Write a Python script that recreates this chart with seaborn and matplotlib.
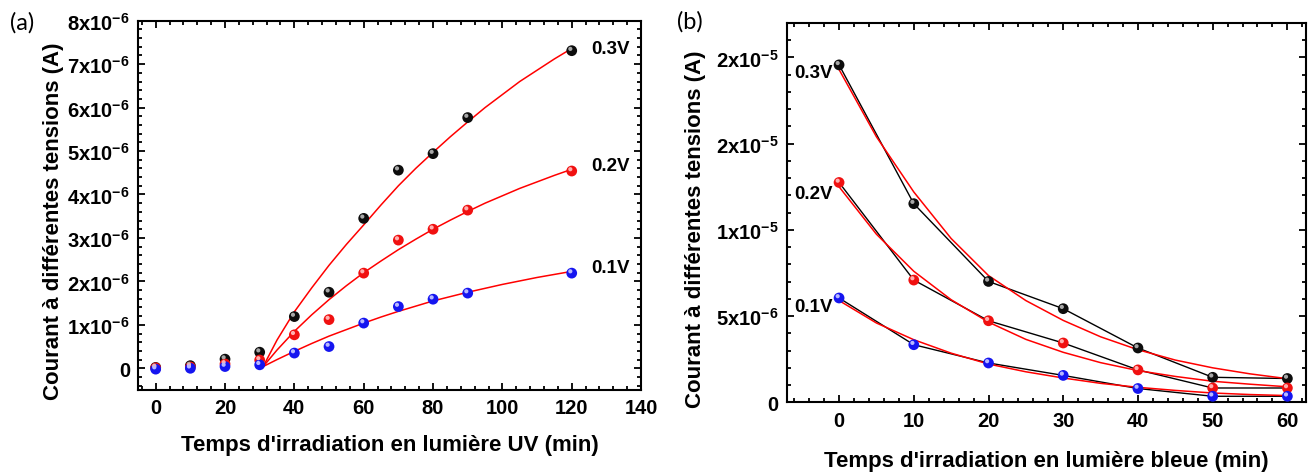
import numpy as np
import pandas as pd
import matplotlib
matplotlib.use('Agg')
import matplotlib.pyplot as plt
import seaborn as sns
from matplotlib import font_manager, transforms
from matplotlib.ticker import MultipleLocator, FixedLocator

# ---- data (courant en 1e-6 A) ----
uv_time = [0, 10, 20, 30, 40, 50, 60, 70, 80, 90, 120]
uv_03 = [0.02, 0.06, 0.21, 0.37, 1.19, 1.75, 3.45, 4.56, 4.94, 5.77, 7.31]
uv_02 = [0.01, 0.03, 0.10, 0.19, 0.77, 1.12, 2.19, 2.95, 3.20, 3.64, 4.54]
uv_01 = [-0.02, 0.00, 0.04, 0.08, 0.35, 0.50, 1.04, 1.42, 1.59, 1.73, 2.19]

fit_uv_time = [31, 35, 40, 45, 50, 55, 60, 65, 70, 75, 80, 85, 90, 95, 100, 105, 110, 115, 120]
fit_uv_03 = [0.04, 0.65, 1.30, 1.85, 2.37, 2.85, 3.30, 3.76, 4.20, 4.60, 4.97, 5.33, 5.67, 6.00, 6.30, 6.60, 6.86, 7.12, 7.36]
fit_uv_02 = [0.04, 0.42, 0.85, 1.23, 1.58, 1.90, 2.20, 2.47, 2.73, 2.97, 3.20, 3.41, 3.61, 3.80, 3.97, 4.14, 4.29, 4.44, 4.58]
fit_uv_01 = [0.04, 0.20, 0.39, 0.57, 0.74, 0.89, 1.04, 1.18, 1.31, 1.43, 1.55, 1.65, 1.75, 1.84, 1.93, 2.01, 2.09, 2.16, 2.23]

bl_time = [0, 10, 20, 30, 40, 50, 60]
bl_03 = [19.57, 11.52, 7.01, 5.43, 3.15, 1.45, 1.38]
bl_02 = [12.75, 7.09, 4.73, 3.44, 1.88, 0.83, 0.83]
bl_01 = [6.05, 3.34, 2.28, 1.56, 0.80, 0.35, 0.35]

fit_bl_time = [0, 5, 10, 15, 20, 25, 30, 35, 40, 45, 50, 55, 60]
fit_bl_03 = [19.3, 15.4, 12.2, 9.5, 7.35, 5.9, 4.75, 3.8, 3.05, 2.45, 2.0, 1.65, 1.37]
fit_bl_02 = [12.5, 9.75, 7.6, 5.95, 4.65, 3.65, 2.9, 2.3, 1.84, 1.5, 1.22, 1.05, 0.9]
fit_bl_01 = [5.9, 4.6, 3.63, 2.85, 2.22, 1.77, 1.41, 1.1, 0.87, 0.69, 0.54, 0.45, 0.39]

tensions = ['0.3V', '0.2V', '0.1V']
uv_ticks = [0, 1, 2, 3, 4, 5, 6, 7, 8]
uv_ticklabels = ['0'] + [r'$\mathbf{%dx10^{-6}}$' % i for i in range(1, 9)]
bl_ticks = [0, 5, 10, 15, 20]
bl_ticklabels = ['0', r'$\mathbf{5x10^{-6}}$', r'$\mathbf{1x10^{-5}}$',
                 r'$\mathbf{2x10^{-5}}$', r'$\mathbf{2x10^{-5}}$']

# ---- style ----
sns.set_style('ticks')
names = {f.name for f in font_manager.fontManager.ttflist}
main_font = 'Liberation Sans' if 'Liberation Sans' in names else 'DejaVu Sans'
plt.rcParams['font.family'] = [main_font, 'DejaVu Sans']
plt.rcParams['font.weight'] = 'bold'
plt.rcParams['mathtext.fontset'] = 'custom'
plt.rcParams['mathtext.rm'] = main_font
plt.rcParams['mathtext.bf'] = main_font + ':bold'
for k in ['text.color', 'axes.labelcolor', 'xtick.color', 'ytick.color']:
    plt.rcParams[k] = 'black'

base_col = {'0.3V': '#0d0d0d', '0.2V': '#f01010', '0.1V': '#1515f0'}
high_col = {'0.3V': '#a8a8a8', '0.2V': '#ffb0b0', '0.1V': '#b8b8ff'}

df_uv = pd.DataFrame({'t': uv_time * 3, 'I': uv_03 + uv_02 + uv_01,
                      'V': np.repeat(tensions, len(uv_time))})
df_uvfit = pd.DataFrame({'t': fit_uv_time * 3, 'I': fit_uv_03 + fit_uv_02 + fit_uv_01,
                         'V': np.repeat(tensions, len(fit_uv_time))})
df_bl = pd.DataFrame({'t': bl_time * 3, 'I': bl_03 + bl_02 + bl_01,
                      'V': np.repeat(tensions, len(bl_time))})
df_blfit = pd.DataFrame({'t': fit_bl_time * 3, 'I': fit_bl_03 + fit_bl_02 + fit_bl_01,
                         'V': np.repeat(tensions, len(fit_bl_time))})

fig = plt.figure(figsize=(13.15, 4.77), dpi=100)
ax1 = fig.add_axes([0.1052, 0.1803, 0.3823, 0.7742])
ax2 = fig.add_axes([0.5983, 0.1545, 0.3949, 0.7952])


def balls(ax, df):
    # boule : disque de base + reflet décalé
    sns.scatterplot(data=df, x='t', y='I', hue='V', palette=base_col, s=60,
                    linewidth=0, legend=False, ax=ax, zorder=4)
    off = transforms.offset_copy(ax.transData, fig=fig, x=-1.0, y=1.3, units='points')
    sns.scatterplot(data=df, x='t', y='I', hue='V', palette=high_col, s=9,
                    linewidth=0, legend=False, ax=ax, zorder=5, transform=off)


def frame(ax):
    for sp in ax.spines.values():
        sp.set_visible(True)
        sp.set_linewidth(1.5)
        sp.set_color('black')
    ax.tick_params(which='both', direction='in', top=True, right=True,
                   width=1.3, labelsize=14.5, colors='black')
    ax.tick_params(which='major', length=5, pad=6)
    ax.tick_params(which='minor', length=3)


# ---- (a) UV ----
sns.lineplot(data=df_uvfit, x='t', y='I', hue='V', palette={v: 'red' for v in tensions},
             estimator=None, sort=False, lw=1.1, legend=False, ax=ax1, zorder=2)
balls(ax1, df_uv)
ax1.set_xlim(-5, 140)
ax1.set_ylim(-0.5, 8)
ax1.xaxis.set_major_locator(MultipleLocator(20))
ax1.xaxis.set_minor_locator(MultipleLocator(4))
ax1.yaxis.set_major_locator(FixedLocator(uv_ticks))
ax1.set_yticklabels(uv_ticklabels)
ax1.yaxis.set_minor_locator(MultipleLocator(0.2))
frame(ax1)
ax1.set_xlabel("Temps d'irradiation en lumière UV (min)", fontsize=16, fontweight='bold')
ax1.set_ylabel('Courant à différentes tensions (A)', fontsize=16, fontweight='bold')
ax1.xaxis.set_label_coords(0.5, -0.12)
ax1.yaxis.set_label_coords(-0.147, 0.46)
for lab, y in zip(tensions, [7.35, 4.67, 2.32]):
    ax1.text(125.5, y, lab, fontsize=13.5, fontweight='bold', ha='left', va='center')

# ---- (b) lumière bleue ----
sns.lineplot(data=df_bl, x='t', y='I', hue='V', palette={v: 'black' for v in tensions},
             estimator=None, sort=False, lw=1.0, legend=False, ax=ax2, zorder=2)
sns.lineplot(data=df_blfit, x='t', y='I', hue='V', palette={v: 'red' for v in tensions},
             estimator=None, sort=False, lw=1.1, legend=False, ax=ax2, zorder=3)
balls(ax2, df_bl)
ax2.set_xlim(-7, 62.5)
ax2.set_ylim(0, 22)
ax2.xaxis.set_major_locator(MultipleLocator(10))
ax2.xaxis.set_minor_locator(MultipleLocator(2))
ax2.yaxis.set_major_locator(FixedLocator(bl_ticks))
ax2.set_yticklabels(bl_ticklabels)
ax2.yaxis.set_minor_locator(MultipleLocator(1))
frame(ax2)
ax2.set_xlabel("Temps d'irradiation en lumière bleue (min)", fontsize=16, fontweight='bold')
ax2.set_ylabel('Courant à différentes tensions (A)', fontsize=16, fontweight='bold')
ax2.xaxis.set_label_coords(0.5, -0.125)
ax2.yaxis.set_label_coords(-0.156, 0.46)
for lab, y in zip(tensions, [19.15, 12.1, 5.55]):
    ax2.text(-0.8, y, lab, fontsize=13.5, fontweight='bold', ha='right', va='center')

fig.text(0.0076, 0.952, '(a)', fontsize=17, fontweight='normal', va='center',
         family=['Lato', 'DejaVu Sans'])
fig.text(0.5148, 0.954, '(b)', fontsize=17, fontweight='normal', va='center',
         family=['Lato', 'DejaVu Sans'])

fig.savefig('out.png', dpi=100)
